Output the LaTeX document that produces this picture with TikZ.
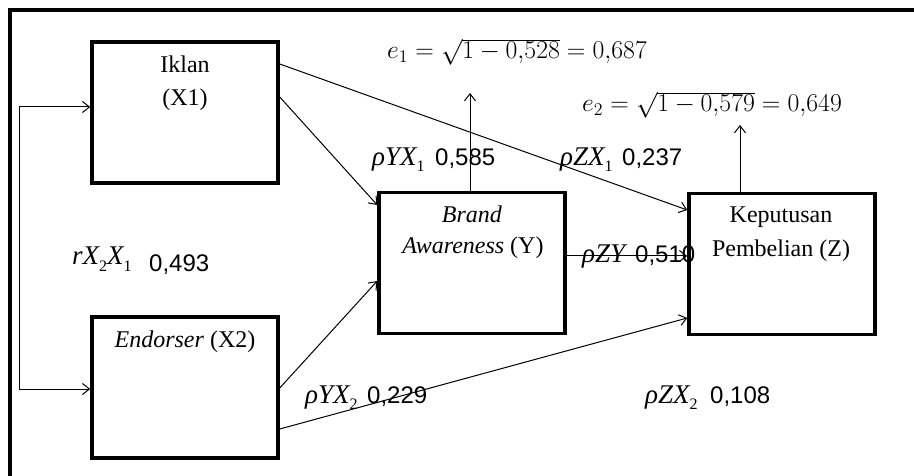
\documentclass[tikz,border=0pt]{standalone}
\usepackage[no-math]{fontspec}
\usepackage{graphicx}
\setmainfont{Liberation Serif}
\newfontfamily\arialf{Liberation Sans}
\usetikzlibrary{arrows.meta}
\newcommand{\lowsub}[1]{\raisebox{-6pt}{\fontsize{16pt}{16pt}\selectfont #1}}
\begin{document}
\begin{tikzpicture}[x=1pt,y=-1pt,
  box/.style={draw, line width=3.5pt, minimum width=186pt, minimum height=141pt, inner sep=0pt},
  btxt/.style={font=\fontsize{24pt}{28pt}\selectfont, anchor=base, inner sep=0pt},
  conn/.style={line width=1pt, -{Straight Barb[length=7pt,width=11pt]}},
  conn2/.style={line width=1pt, {Straight Barb[length=7pt,width=11pt]}-{Straight Barb[length=7pt,width=11pt]}},
  lbl/.style={font=\fontsize{27pt}{30pt}\selectfont\itshape, anchor=base west, inner sep=0pt},
  num/.style={font=\fontsize{24pt}{28pt}\selectfont\arialf, anchor=base west, inner sep=0pt},
  eq/.style={font=\fontsize{21pt}{25pt}\selectfont, anchor=base west, inner sep=0pt},
  frame/.style={line width=4pt}]
\useasboundingbox (0,0) rectangle (914,476);
\fill[white] (0,0) rectangle (914,476);
\draw[frame] (916,10) -- (10,10) -- (10,478);

% boxes
\node[box] (X1) at (185,112.5) {};
\node[box] (X2) at (185,387.5) {};
\node[box] (Y) at (472,263) {};
\node[box] (Z) at (782,264) {};

% box texts
\node[btxt] (x1a) at (185,73) {Iklan};
\node[btxt] (x1b) at (185,106) {(X1)};
\node[btxt] (x2a) at (185,347) {\textit{Endorser} (X2)};
\node[btxt] (ya) at (472,223) {\textit{Brand}};
\node[btxt] (yb) at (473,254) {\textit{Awareness} (Y)};
\node[btxt] (za) at (781,223) {Keputusan};
\node[btxt] (zb) at (781,257) {Pembelian (Z)};

% connector end points
\coordinate (b1) at (19,107);
\coordinate (b2) at (19,389);
\coordinate (e1tip) at (470,93);
\coordinate (e2tip) at (740,125);

% connectors
\draw[conn2] ([yshift=5.5pt]X1.west) -- (b1) -- (b2) -- ([yshift=-1.5pt]X2.west);
\draw[conn] ([yshift=48.5pt]X1.east) -- ([yshift=54pt]Z.west);
\draw[conn] ([yshift=15.5pt]X1.east) -- ([yshift=58pt]Y.west);
\draw[conn] ([yshift=-0.5pt]X2.east) -- ([yshift=-18pt]Y.west);
\draw[conn] ([yshift=-41.5pt]X2.east) -- ([yshift=-54pt]Z.west);
\draw[conn] ([yshift=7pt]Y.east) -- ([yshift=7pt]Y.east -| Z.west);
\draw[conn] ([xshift=-2pt]Y.north) -- (e1tip);
\draw[conn] ([xshift=-42pt]Z.north) -- (e2tip);

% equations
\node[eq] (e1) at (387,59) {\scalebox{1.24}{$e_1 = \sqrt{1-0{,}528} = 0{,}687$}};
\node[eq] (e2) at (582,112) {\scalebox{1.24}{$e_2 = \sqrt{1-0{,}579} = 0{,}649$}};

% coefficient labels
\node[lbl] (lyx1) at (372,166) {ρYX\lowsub{\upshape 1}};
\node[num] (vyx1) at (435,166) {0,585};
\node[lbl] (lzx1) at (560,166) {ρZX\lowsub{\upshape 1}};
\node[num] (vzx1) at (622,166) {0,237};
\node[lbl] (lr) at (72,265) {rX\lowsub{\upshape 2}X\lowsub{\upshape 1}};
\node[num] (vr) at (149,271) {0,493};
\node[lbl] (lzy) at (582,262) {ρZY};
\node[num] (vzy) at (635,262) {0,510};
\node[lbl] (lyx2) at (305,403) {ρYX\lowsub{\upshape 2}};
\node[num] (vyx2) at (367,403) {0,229};
\node[lbl] (lzx2) at (645,403) {ρZX\lowsub{\upshape 2}};
\node[num] (vzx2) at (710,403) {0,108};
\end{tikzpicture}
\end{document}
